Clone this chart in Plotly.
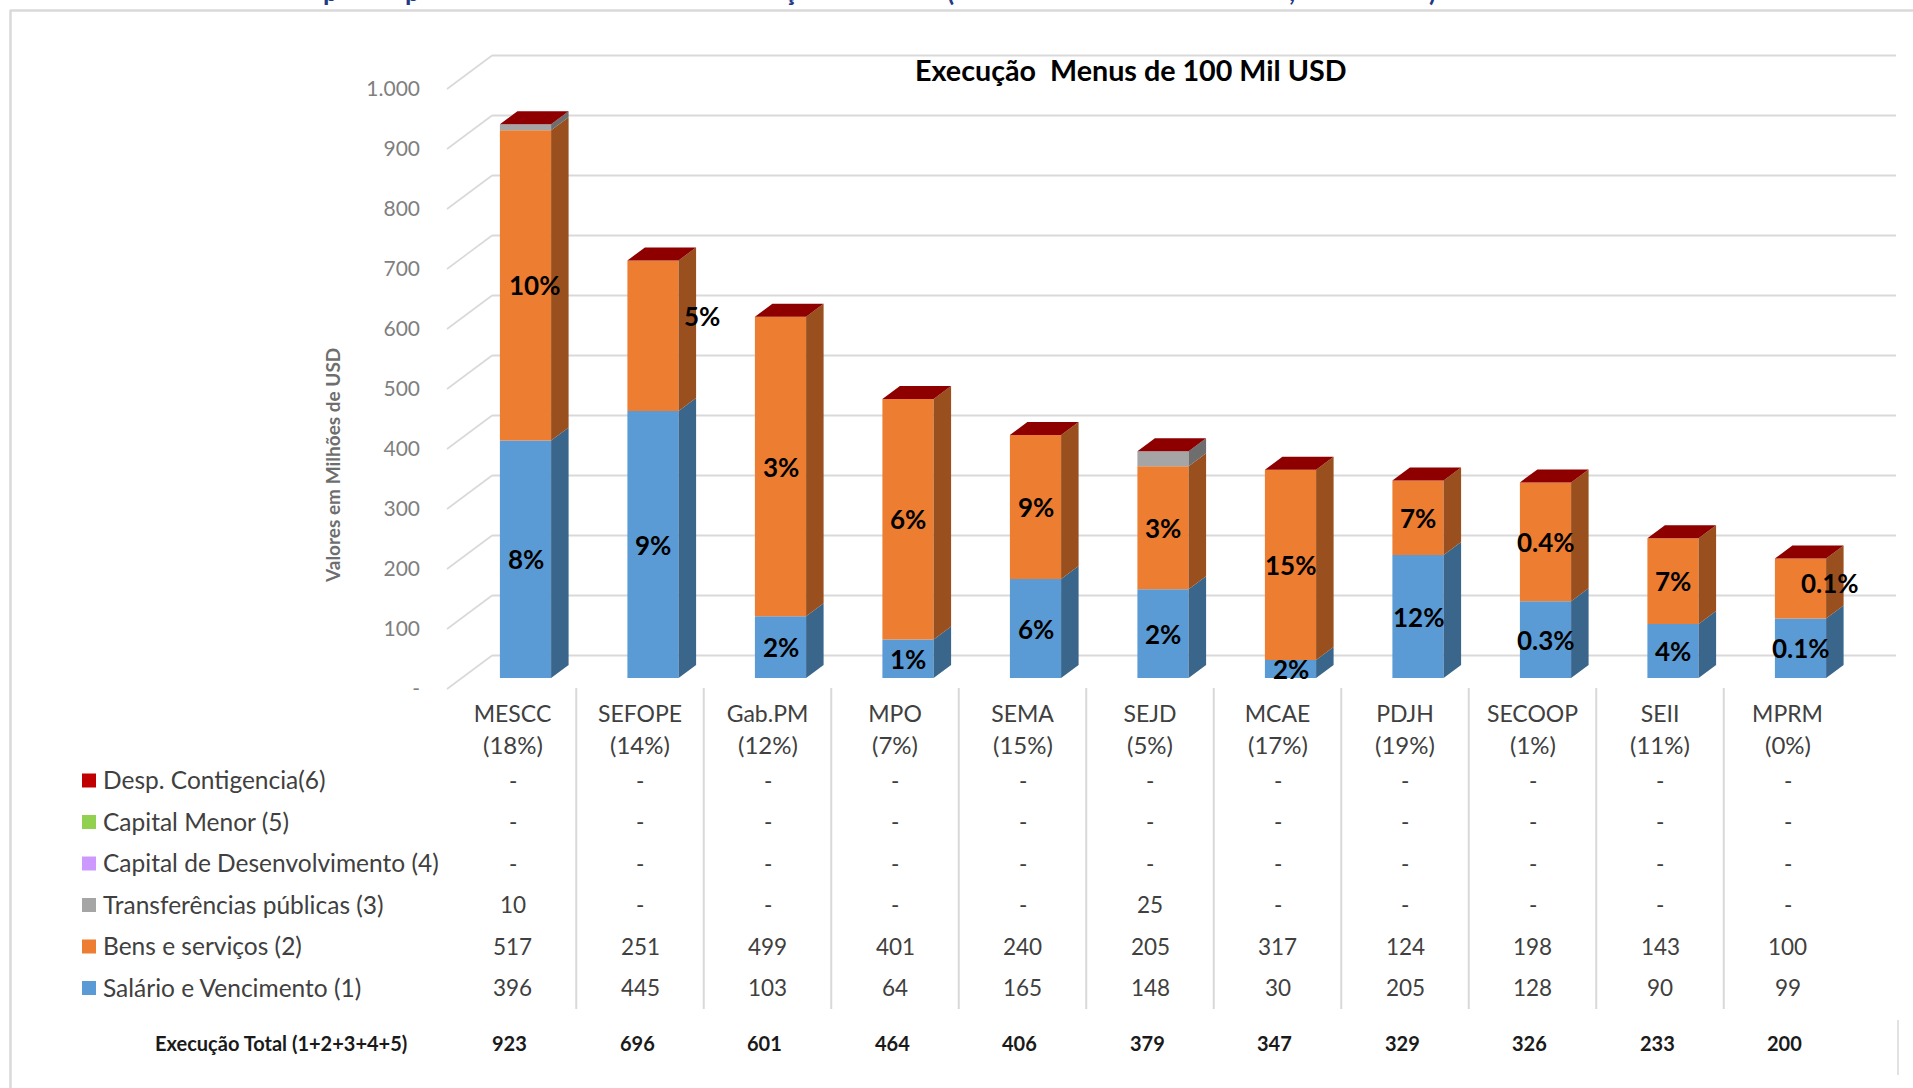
import plotly.graph_objects as go

# ---------- data ----------
categories = ["MESCC", "SEFOPE", "Gab.PM", "MPO", "SEMA", "SEJD", "MCAE", "PDJH", "SECOOP", "SEII", "MPRM"]
shares = ["(18%)", "(14%)", "(12%)", "(7%)", "(15%)", "(5%)", "(17%)", "(19%)", "(1%)", "(11%)", "(0%)"]
salario = [396, 445, 103, 64, 165, 148, 30, 205, 128, 90, 99]
bens = [517, 251, 499, 401, 240, 205, 317, 124, 198, 143, 100]
transferencias = [10, 0, 0, 0, 0, 25, 0, 0, 0, 0, 0]
capital_dev = [0] * 11
capital_menor = [0] * 11
contingencia = [0] * 11
totais = [923, 696, 601, 464, 406, 379, 347, 329, 326, 233, 200]
pct_salario = ["8%", "9%", "2%", "1%", "6%", "2%", "2%", "12%", "0.3%", "4%", "0.1%"]
pct_bens = ["10%", "5%", "3%", "6%", "9%", "3%", "15%", "7%", "0.4%", "7%", "0.1%"]
y_ticks = [0, 100, 200, 300, 400, 500, 600, 700, 800, 900, 1000]
y_tick_text = ["-", "100", "200", "300", "400", "500", "600", "700", "800", "900", "1.000"]

series_names = ["Salário e Vencimento (1)", "Bens e serviços (2)", "Transferências públicas (3)",
                "Capital de Desenvolvimento (4)", "Capital Menor (5)", "Desp. Contigencia(6)"]
series_values = [salario, bens, transferencias, capital_dev, capital_menor, contingencia]
front_colors = ["#5B9BD5", "#ED7D31", "#A5A5A5", "#CC99FF", "#92D050", "#C00000"]
side_colors = ["#3B668C", "#99501E", "#6E6E6E", "#8866AA", "#618A35", "#800000"]

# ---------- layout geometry ----------
W, H = 1913, 1088
X0, XSTEP = 525.5, 127.5     # pixel of first category, pixels per category
Y0, YSCALE = 689.0, 0.6      # pixel of value 0 on the front plane, pixels per unit
def X(px): return (px - X0) / XSTEP
def Y(py): return (Y0 - py) / YSCALE

BAR_W = 51.2 / XSTEP
BAR_LIFT = 11 / YSCALE
BAR_DX, BAR_DY = 17.5 / XSTEP, 13 / YSCALE
GRID_DY = 33.5 / YSCALE
GRID = "#D9D9D9"
TXT = "#404040"
FONT = "Lato, Carlito, sans-serif"
NARROW = "Liberation Sans Narrow, Lato, sans-serif"

fig = go.Figure()
shapes, notes = [], []

# ---------- grid (walls of the pseudo-3D box) ----------
for v in y_ticks:
    shapes.append(dict(type="line", xref="x", yref="y", layer="below", x0=X(447), x1=X(492), y0=v, y1=v + GRID_DY,
                       line=dict(color=GRID, width=1.6)))
    shapes.append(dict(type="line", xref="x", yref="y", layer="below", x0=X(492), x1=X(1896), y0=v + GRID_DY, y1=v + GRID_DY,
                       line=dict(color=GRID, width=2)))

# ---------- bars ----------
cum = [BAR_LIFT] * len(categories)
seg_mid = []
for name, vals, col, side in zip(series_names, series_values, front_colors, side_colors):
    fig.add_trace(go.Bar(x=list(range(len(vals))), y=vals, base=cum, width=BAR_W, name=name,
                         marker=dict(color=col, line=dict(width=0)), showlegend=False))
    sx, sy = [], []
    for i, v in enumerate(vals):
        if v > 0:
            r = i + BAR_W / 2
            sx += [r, r + BAR_DX, r + BAR_DX, r, r, None]
            sy += [cum[i], cum[i] + BAR_DY, cum[i] + v + BAR_DY, cum[i] + v, cum[i], None]
    if sx:
        fig.add_trace(go.Scatter(x=sx, y=sy, mode="lines", fill="toself", fillcolor=side,
                                 line=dict(width=0, color=side), hoverinfo="skip", showlegend=False))
    seg_mid.append([c + v / 2 for c, v in zip(cum, vals)])
    cum = [c + v for c, v in zip(cum, vals)]

tx, ty = [], []
for i, c in enumerate(cum):
    l, r = i - BAR_W / 2, i + BAR_W / 2
    tx += [l, r, r + BAR_DX, l + BAR_DX, l, None]
    ty += [c, c, c + BAR_DY, c + BAR_DY, c, None]
fig.add_trace(go.Scatter(x=tx, y=ty, mode="lines", fill="toself", fillcolor="#8E0000",
                         line=dict(width=0, color="#8E0000"), hoverinfo="skip", showlegend=False))

# ---------- percentage labels ----------
bens_shift = {0: (9, 0), 1: (49, 20), 10: (29, 6)}
for i in range(len(categories)):
    notes.append(dict(x=i, y=seg_mid[0][i], xref="x", yref="y", text=pct_salario[i], showarrow=False, yshift=0,
                      font=dict(family=FONT, size=26, color="#000000", weight="bold")))
    dx, dy = bens_shift.get(i, (0, 0))
    notes.append(dict(x=i, y=seg_mid[1][i], xref="x", yref="y", text=pct_bens[i], showarrow=False, xshift=dx, yshift=dy,
                      font=dict(family=FONT, size=26, color="#000000", weight="bold")))

# ---------- table below the chart ----------
COL_SHIFT = -13
for i, s in enumerate(shares):
    notes.append(dict(x=i, y=Y(744), xref="x", yref="y", text=s, showarrow=False, xshift=COL_SHIFT,
                      font=dict(family=FONT, size=24, color=TXT)))
row_px = [987, 945.5, 904, 862.5, 821, 779.5]
for name, vals, col, py in zip(series_names, series_values, front_colors, row_px):
    shapes.append(dict(type="rect", xref="x", yref="y", x0=X(82), x1=X(96), y0=Y(py - 6), y1=Y(py + 8),
                       fillcolor=col, line=dict(width=0)))
    notes.append(dict(x=X(100.5), y=Y(py), xref="x", yref="y", text=name, showarrow=False, xanchor="left",
                      font=dict(family=FONT, size=24.5, color=TXT)))
    for i, v in enumerate(vals):
        notes.append(dict(x=i, y=Y(py + 0.5), xref="x", yref="y", text=str(v) if v else "-", showarrow=False,
                          xshift=COL_SHIFT, font=dict(family=FONT, size=22.5, color=TXT)))
for i in range(len(categories) - 1):
    xs = i + 0.5 + COL_SHIFT / XSTEP
    shapes.append(dict(type="line", xref="x", yref="y", x0=xs, x1=xs, y0=Y(688), y1=Y(1009),
                       line=dict(color=GRID, width=2)))

notes.append(dict(x=X(409), y=Y(1043), xref="x", yref="y", text="Execução Total (1+2+3+4+5)", showarrow=False,
                  xanchor="right", font=dict(family=NARROW, size=20, color="#1A1A1A", weight="bold")))
for i, t in enumerate(totais):
    notes.append(dict(x=i, y=Y(1043), xref="x", yref="y", text=str(t), showarrow=False, xshift=-16,
                      font=dict(family=NARROW, size=20, color="#1A1A1A", weight="bold")))

# ---------- titles ----------
notes.append(dict(x=X(1131), y=Y(70), xref="x", yref="y", text="Execução\u00a0 Menus de 100 Mil USD", showarrow=False,
                  font=dict(family=FONT, size=28.7, color="#000000", weight="bold")))
notes.append(dict(x=X(332), y=Y(466), xref="x", yref="y", text="Valores em Milhões de USD", showarrow=False, textangle=-90,
                  font=dict(family=NARROW, size=19, color="#6E6E6E", weight="bold")))

# clipped heading: only the descenders of these glyphs remain visible above the frame
for ch, px in zip(["p", "p", "ç", "(", ",", ")"], [330, 412, 790, 950, 1292, 1432]):
    notes.append(dict(x=X(px), y=Y(9), xref="x", yref="y", text=ch, showarrow=False, yanchor="bottom",
                      font=dict(family=FONT, size=26, color="#1F3A86", weight="bold")))

# ---------- frame ----------
shapes.append(dict(type="line", xref="x", yref="y", x0=X(10), x1=X(W), y0=Y(10.5), y1=Y(10.5), line=dict(color=GRID, width=2.5)))
shapes.append(dict(type="line", xref="x", yref="y", x0=X(10.5), x1=X(10.5), y0=Y(10), y1=Y(H), line=dict(color=GRID, width=2.5)))
shapes.append(dict(type="line", xref="x", yref="y", x0=X(1898), x1=X(1898), y0=Y(1020), y1=Y(1075), line=dict(color=GRID, width=1.5)))

fig.update_layout(
    width=W, height=H, margin=dict(l=0, r=0, t=0, b=0), autosize=False,
    paper_bgcolor="white", plot_bgcolor="white", barmode="overlay", showlegend=False,
    shapes=shapes, annotations=notes,
    xaxis=dict(range=[X(0), X(W)], anchor="free", position=(H - Y0) / H, tickmode="array",
               tickvals=[i + COL_SHIFT / XSTEP for i in range(len(categories))], ticktext=categories,
               showgrid=False, zeroline=False, showline=False, ticks="", ticklabelstandoff=9,
               tickfont=dict(family=FONT, size=23, color=TXT)),
    yaxis=dict(range=[Y(H), Y(0)], anchor="free", position=428 / W, tickmode="array",
               tickvals=y_ticks, ticktext=y_tick_text, showgrid=False, zeroline=False, showline=False, ticks="",
               ticklabelstandoff=8, tickfont=dict(family=FONT, size=21, color="#7F7F7F")),
)

fig.write_html("out.html", config={"displayModeBar": False},
               post_script="document.body.style.margin='0';document.body.style.overflow='hidden';")
